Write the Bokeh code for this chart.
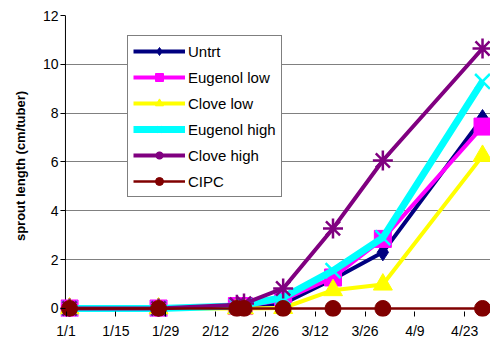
import pandas as pd
from bokeh.plotting import figure
from bokeh.models import Range1d, FixedTicker, Span, BoxAnnotation, Legend, LegendItem
from bokeh.embed import file_html
from bokeh.resources import INLINE

# ---- data ----
dates = ["1/2", "1/27", "2/18", "2/20", "3/3", "3/17", "3/31", "4/28"]
untrt = [0.0, 0.0, 0.1, 0.1, 0.2, 1.2, 2.3, 7.8]
eugenol_low = [0.0, 0.0, 0.1, 0.1, 0.35, 1.27, 2.85, 7.45]
clove_low = [0.0, 0.0, 0.0, 0.0, 0.02, 0.75, 0.98, 6.25]
eugenol_high = [0.0, 0.0, 0.1, 0.15, 0.45, 1.55, 2.9, 9.3]
clove_high = [0.0, 0.0, 0.15, 0.2, 0.82, 3.28, 6.06, 10.65]
cipc = [0.0, 0.0, 0.0, 0.0, 0.0, 0.0, 0.0, 0.0]

tick_labels = ["1/1", "1/15", "1/29", "2/12", "2/26", "3/12", "3/26", "4/9", "4/23"]
y_ticks = [0, 2, 4, 6, 8, 10, 12]

base = pd.Timestamp("2007-01-01")
def day(s):
    m, d = s.split("/")
    return (pd.Timestamp(year=2007, month=int(m), day=int(d)) - base).days

x = [day(s) for s in dates]
x_ticks = [day(s) for s in tick_labels]

series = [
    ("Untrt", untrt, "#000080", 4, "diamond", 17),
    ("Eugenol low", eugenol_low, "#FF00FF", 4, "square", 17),
    ("Clove low", clove_low, "#FFFF00", 4, "triangle", 19),
    ("Eugenol high", eugenol_high, "#00FFFF", 7, "x", 21),
    ("Clove high", clove_high, "#800080", 4, "asterisk", 20),
    ("CIPC", cipc, "#800000", 2.5, "circle", 16),
]

p = figure(width=490, height=343, output_backend="svg", toolbar_location=None,
           x_range=Range1d(-1.545, 119.24), y_range=Range1d(-0.328, 12.0),
           min_border_left=60, min_border_right=0, min_border_top=15, min_border_bottom=27)
p.outline_line_color = None
p.background_fill_color = "white"
p.border_fill_color = "white"

p.xgrid.grid_line_color = None
p.ygrid.grid_line_color = "#808080"
p.ygrid.grid_line_width = 1
p.ygrid.ticker = FixedTicker(ticks=y_ticks)

# cover grid left of the y-axis line
p.add_layout(BoxAnnotation(right=-0.15, fill_color="white", fill_alpha=1,
                           line_color=None, level="underlay"))
p.add_layout(Span(location=-0.15, dimension="height", line_color="black", line_width=1,
                  level="underlay"))
p.add_layout(Span(location=0, dimension="width", line_color="black", line_width=1,
                  level="underlay"))

# axes
p.yaxis.ticker = FixedTicker(ticks=y_ticks)
p.yaxis.axis_line_color = None
p.yaxis.major_tick_in = 5
p.yaxis.major_tick_out = 0
p.yaxis.minor_tick_line_color = None
p.yaxis.major_tick_line_color = "black"
p.yaxis.major_label_standoff = 2
p.yaxis.major_label_text_font = "Liberation Sans"
p.yaxis.major_label_text_font_size = "14px"
p.yaxis.major_label_text_color = "black"
p.yaxis.axis_label = "sprout length (cm/tuber)"
p.yaxis.axis_label_text_font = "Liberation Sans"
p.yaxis.axis_label_text_font_size = "13px"
p.yaxis.axis_label_text_font_style = "bold"
p.yaxis.axis_label_text_color = "black"
p.yaxis.axis_label_standoff = 12

p.xaxis.ticker = FixedTicker(ticks=x_ticks)
p.xaxis.major_label_overrides = {t: l for t, l in zip(x_ticks, tick_labels)}
p.xaxis.axis_line_color = None
p.xaxis.major_tick_in = 5
p.xaxis.major_tick_out = 0
p.xaxis.minor_tick_line_color = None
p.xaxis.major_tick_line_color = "black"
p.xaxis.major_label_standoff = 6
p.xaxis.major_label_text_font = "Liberation Sans"
p.xaxis.major_label_text_font_size = "14px"
p.xaxis.major_label_text_color = "black"

items = []
for name, ys, color, lw, marker, size in series:
    r1 = p.line(x, ys, line_color=color, line_width=lw)
    if marker in ("x", "asterisk"):
        r2 = p.scatter(x, ys, marker=marker, size=size, line_color=color, line_width=2.5)
    else:
        r2 = p.scatter(x, ys, marker=marker, size=size, fill_color=color, line_color=color)
    items.append(LegendItem(label=name, renderers=[r1, r2]))

legend = Legend(items=items, location=(67, 119), orientation="vertical")
legend.border_line_color = "black"
legend.border_line_width = 1
legend.background_fill_color = "white"
legend.background_fill_alpha = 1
legend.label_text_font = "Liberation Sans"
legend.label_text_font_size = "15px"
legend.label_text_color = "black"
legend.glyph_width = 52
legend.glyph_height = 20
legend.label_height = 20
legend.label_standoff = 3
legend.spacing = 6
legend.padding = 5
legend.margin = 0
p.add_layout(legend, "center")

open("out.html", "w").write(file_html(p, INLINE))
